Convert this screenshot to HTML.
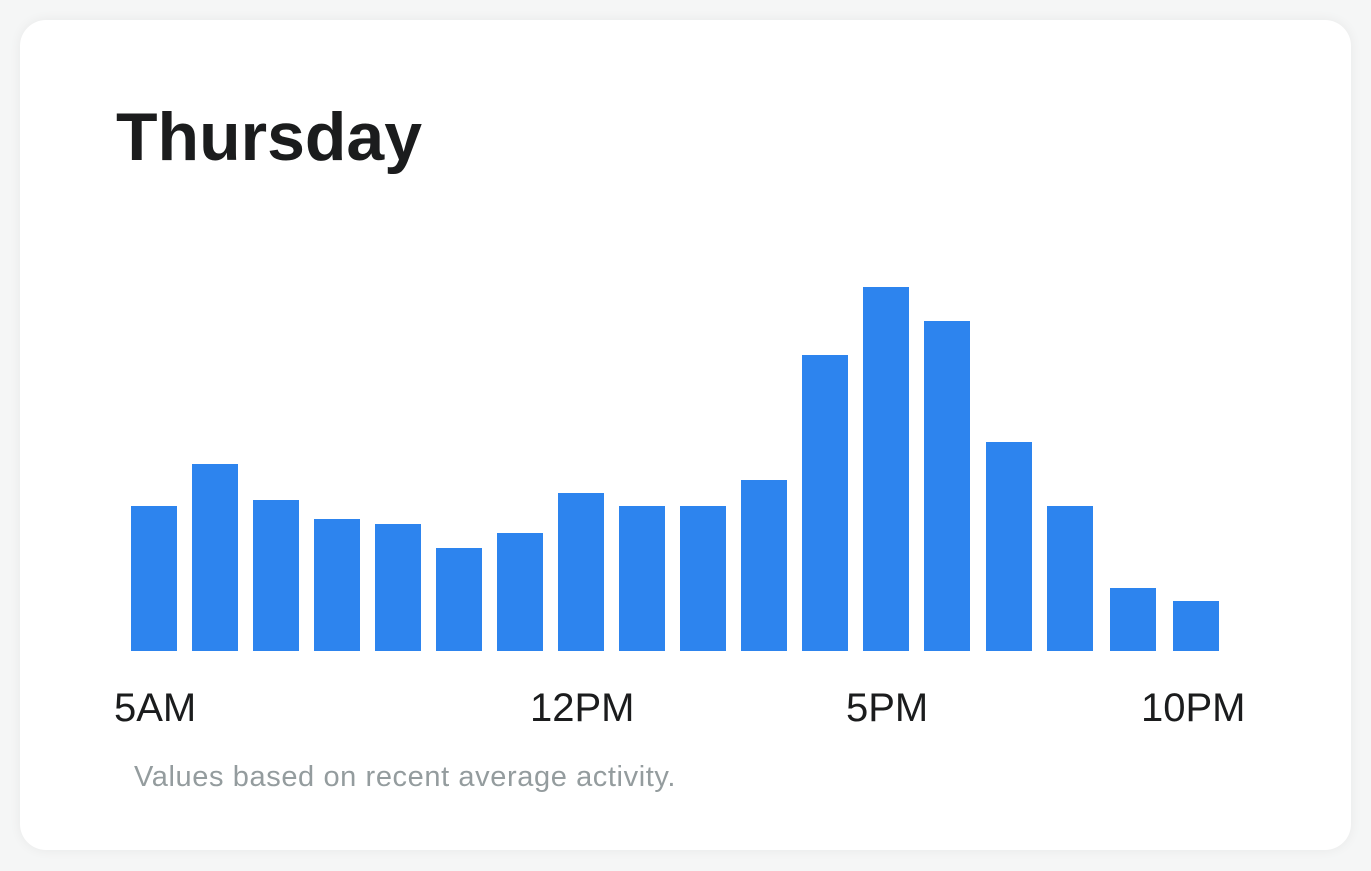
<!DOCTYPE html>
<html><head><style>
html,body{margin:0;padding:0;width:1371px;height:871px;background:#f5f6f6;overflow:hidden;font-family:"Liberation Sans",sans-serif;}
.card{position:absolute;left:20px;top:20px;width:1331px;height:830px;background:#fff;border-radius:26px;box-shadow:0 0 12px rgba(0,0,0,0.06);}
.t{position:absolute;left:116px;top:98px;font-size:68px;font-weight:bold;color:#1b1c1d;letter-spacing:0px;}
.l{position:absolute;top:686px;font-size:40px;color:#1b1c1d;font-weight:300;}
.f{position:absolute;left:134px;top:761px;font-size:29px;letter-spacing:0.6px;color:#949c9e;}
.b{position:absolute;width:46px;background:#2d84ee;}
</style></head><body>
<div class="card"></div>
<div class="t">Thursday</div>
<div class="b" style="left:131px;top:506px;height:145px"></div>
<div class="b" style="left:192px;top:464px;height:187px"></div>
<div class="b" style="left:253px;top:500px;height:151px"></div>
<div class="b" style="left:314px;top:519px;height:132px"></div>
<div class="b" style="left:375px;top:524px;height:127px"></div>
<div class="b" style="left:436px;top:548px;height:103px"></div>
<div class="b" style="left:497px;top:533px;height:118px"></div>
<div class="b" style="left:558px;top:493px;height:158px"></div>
<div class="b" style="left:619px;top:506px;height:145px"></div>
<div class="b" style="left:680px;top:506px;height:145px"></div>
<div class="b" style="left:741px;top:480px;height:171px"></div>
<div class="b" style="left:802px;top:355px;height:296px"></div>
<div class="b" style="left:863px;top:287px;height:364px"></div>
<div class="b" style="left:924px;top:321px;height:330px"></div>
<div class="b" style="left:986px;top:442px;height:209px"></div>
<div class="b" style="left:1047px;top:506px;height:145px"></div>
<div class="b" style="left:1110px;top:588px;height:63px"></div>
<div class="b" style="left:1173px;top:601px;height:50px"></div>
<div class="l" style="left:114px">5AM</div>
<div class="l" style="left:530px">12PM</div>
<div class="l" style="left:846px">5PM</div>
<div class="l" style="left:1141px">10PM</div>
<div class="f">Values based on recent average activity.</div>
</body></html>
